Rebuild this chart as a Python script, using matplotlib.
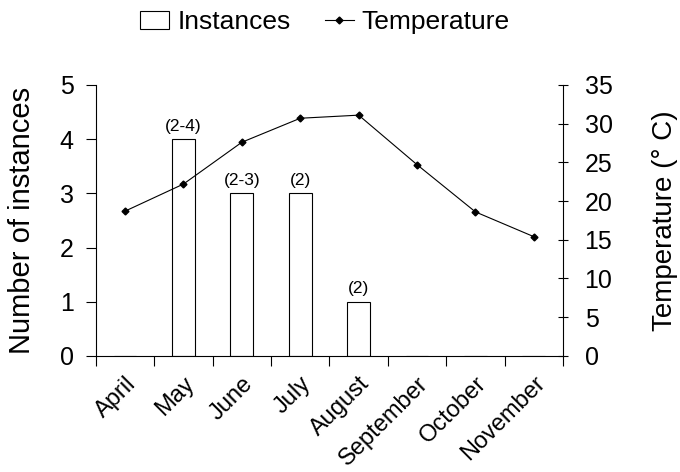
import matplotlib.pyplot as plt
import matplotlib.transforms as mtransforms
from matplotlib.patches import Patch
from matplotlib.lines import Line2D
import numpy as np

plt.rcParams['font.family'] = ['Liberation Sans', 'DejaVu Sans']

months = ['April', 'May', 'June', 'July', 'August', 'September', 'October', 'November']
instances = [0, 4, 3, 3, 1, 0, 0, 0]
bar_notes = ['', '(2-4)', '(2-3)', '(2)', '(2)', '', '', '']
temperature = [18.7, 22.2, 27.6, 30.7, 31.1, 24.7, 18.6, 15.4]

x = np.arange(len(months))

fig = plt.figure(figsize=(6.8, 4.72), dpi=100)
ax = fig.add_axes([0.141, 0.246, 0.687, 0.574])

ax.bar(x, instances, width=0.39, color='white', edgecolor='black', linewidth=0.8, zorder=2)
for xi, v, note in zip(x, instances, bar_notes):
    if note:
        ax.text(xi, v + 0.1, note, ha='center', va='bottom', fontsize=12.5)

ax.set_xlim(-0.5, len(months) - 0.5)
ax.set_ylim(0, 5)
ax.set_yticks(range(0, 6))
ax.set_xticks(np.arange(-0.5, len(months)), labels=[])
ax.set_xticks(x, minor=True)
offset = mtransforms.ScaledTranslation(14 / 100, 0, fig.dpi_scale_trans)
ax.set_xticklabels(months, minor=True, rotation=45, ha='right', rotation_mode='anchor')
for lab in ax.get_xticklabels(minor=True):
    lab.set_transform(lab.get_transform() + offset)
ax.tick_params(axis='x', which='minor', length=0, pad=12, labelsize=17)
ax.tick_params(axis='x', which='major', length=7, width=0.8, direction='out')
ax.tick_params(axis='y', length=7, width=0.8, direction='out', labelsize=18, pad=9)
ax.set_ylabel('Number of instances', fontsize=21)
ax.yaxis.set_label_coords(-0.128, 0.5)
for s in ['top', 'right']:
    ax.spines[s].set_visible(False)
for s in ['left', 'bottom']:
    ax.spines[s].set_linewidth(0.8)

ax2 = ax.twinx()
ax2.plot(x, temperature, color='black', linewidth=0.8, marker='D', markersize=3.5, zorder=3)
ax2.set_ylim(0, 35)
ax2.set_yticks(range(0, 36, 5))
ax2.tick_params(axis='y', length=7, width=0.8, direction='inout', labelsize=18, pad=12)
ax2.set_ylabel('Temperature (° C)', fontsize=20)
ax2.yaxis.set_label_coords(1.19, 0.5)
for s in ['top', 'left', 'bottom']:
    ax2.spines[s].set_visible(False)
ax2.spines['right'].set_linewidth(0.8)

handles = [Patch(facecolor='white', edgecolor='black', linewidth=0.8),
           Line2D([], [], color='black', linewidth=0.8, marker='D', markersize=3.5)]
fig.legend(handles, ['Instances', 'Temperature'], loc='center', bbox_to_anchor=(0.478, 0.953),
           ncol=2, frameon=False, fontsize=19, handlelength=1.1, handletextpad=0.3,
           columnspacing=1.3)

fig.savefig('out.png', dpi=100)
